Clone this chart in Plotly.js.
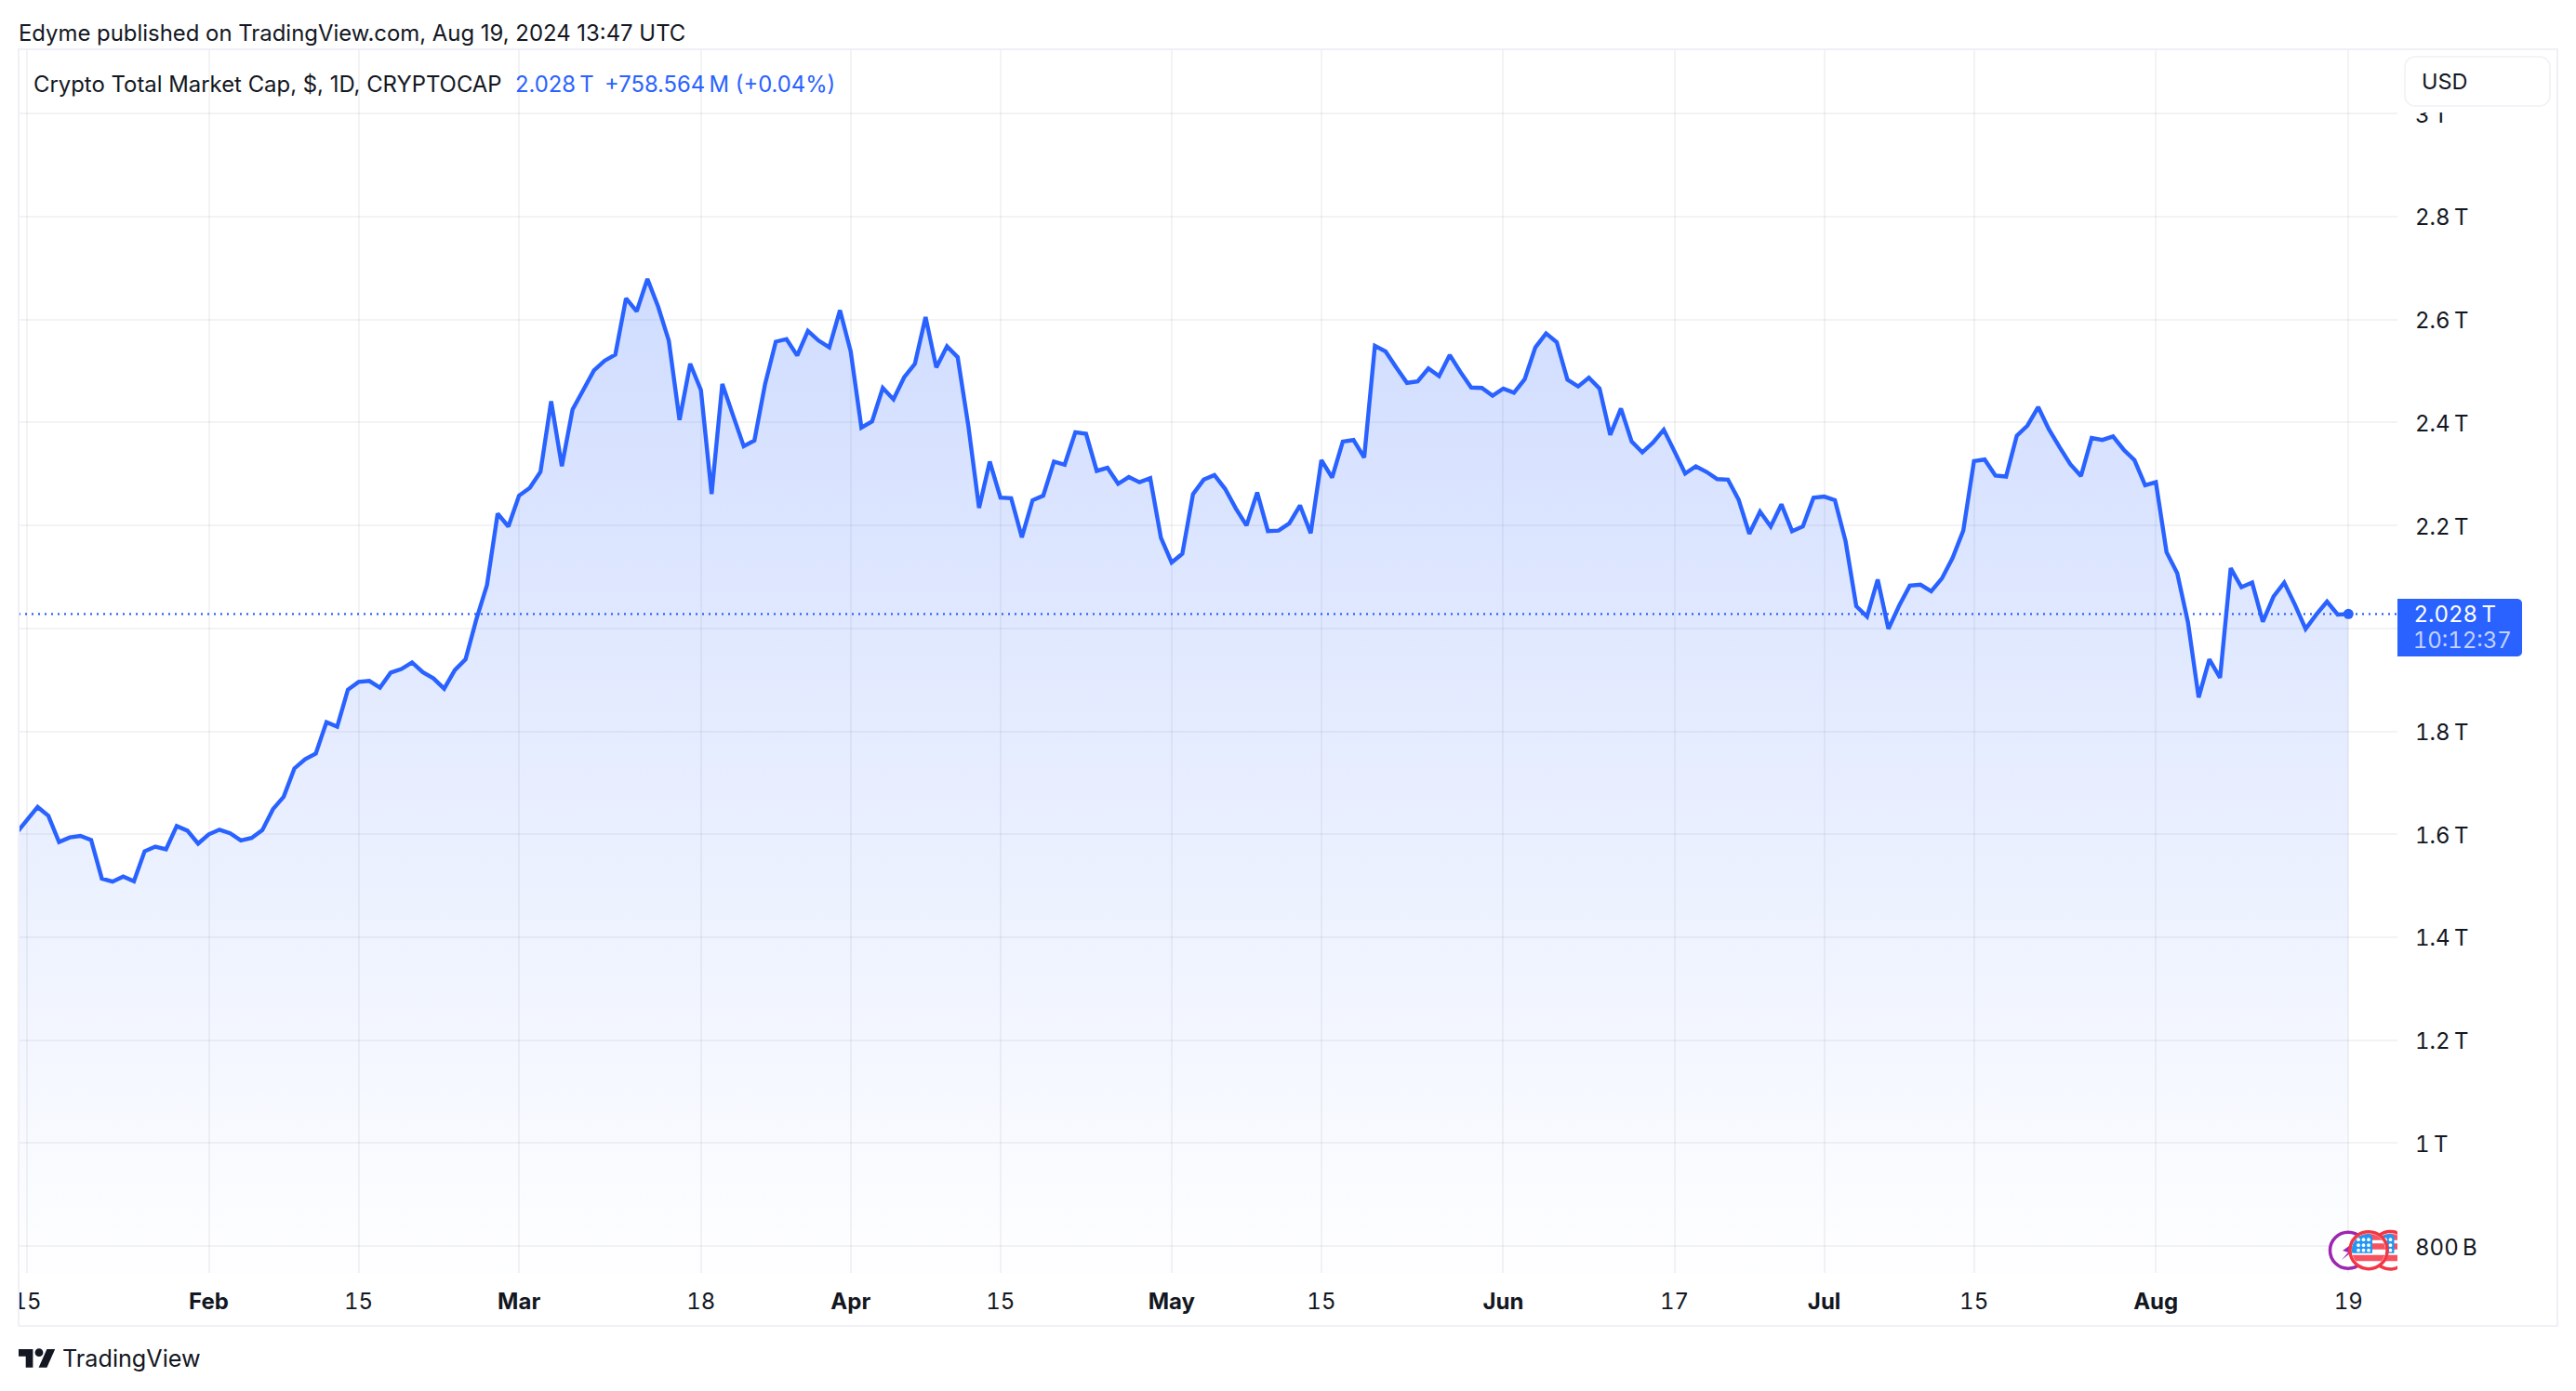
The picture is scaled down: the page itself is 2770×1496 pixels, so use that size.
<!DOCTYPE html>
<html>
<head>
<meta charset="utf-8">
<script src="https://cdn.plot.ly/plotly-3.0.1.min.js"></script>
<style>html,body{margin:0;padding:0;background:#fff}#chart{width:2770px;height:1496px}
.xtick text,.ytick text,.annotation[data-index="5"] text,.annotation[data-index="6"] text{font-variant-numeric:tabular-nums;font-feature-settings:"tnum"}</style>
</head>
<body>
<div id="chart"></div>
<script>
// Crypto total market cap, trillions USD, one value per day. January begins on the 14th.
const jan = [1.602,1.628,1.653,1.636,1.585,1.594,1.597,1.589,1.514,1.508,1.518,1.509,1.567,1.576,1.571,1.616,1.607,1.582];
const feb = [1.600,1.609,1.602,1.588,1.593,1.608,1.649,1.673,1.728,1.746,1.757,1.818,1.809,1.881,1.896,1.898,1.885,1.914,1.921,1.934,1.915,1.903,1.883,1.919,1.940,2.017,2.084,2.223,2.198];
const mar = [2.258,2.273,2.304,2.441,2.315,2.425,2.463,2.501,2.520,2.532,2.641,2.616,2.679,2.625,2.559,2.405,2.514,2.463,2.261,2.475,2.414,2.354,2.365,2.475,2.557,2.562,2.530,2.578,2.559,2.546,2.618];
const apr = [2.538,2.390,2.402,2.467,2.445,2.488,2.514,2.605,2.507,2.548,2.527,2.393,2.234,2.324,2.254,2.253,2.177,2.249,2.258,2.324,2.318,2.381,2.378,2.306,2.312,2.281,2.294,2.284,2.292,2.176];
const may = [2.128,2.145,2.261,2.289,2.298,2.271,2.233,2.200,2.264,2.189,2.190,2.204,2.239,2.185,2.327,2.293,2.363,2.366,2.332,2.549,2.538,2.507,2.477,2.480,2.505,2.490,2.531,2.498,2.468,2.467,2.452];
const jun = [2.466,2.458,2.484,2.546,2.573,2.556,2.483,2.470,2.487,2.466,2.376,2.427,2.363,2.342,2.361,2.386,2.344,2.301,2.315,2.304,2.290,2.289,2.250,2.184,2.227,2.198,2.241,2.189,2.198,2.254];
const jul = [2.256,2.249,2.169,2.043,2.023,2.095,1.999,2.044,2.083,2.085,2.072,2.097,2.137,2.190,2.325,2.328,2.297,2.295,2.374,2.394,2.430,2.387,2.352,2.319,2.296,2.370,2.366,2.373,2.347,2.327,2.278];
const aug = [2.284,2.148,2.107,2.012,1.866,1.940,1.904,2.117,2.080,2.089,2.013,2.062,2.089,2.046,1.999,2.027,2.052,2.027,2.028];

const xTickVals = ['2024-01-15','2024-02-01','2024-02-15','2024-03-01','2024-03-18','2024-04-01','2024-04-15','2024-05-01','2024-05-15','2024-06-01','2024-06-17','2024-07-01','2024-07-15','2024-08-01','2024-08-19'];
const xTickText = ['15','<b>Feb</b>','15','<b>Mar</b>','18','<b>Apr</b>','15','<b>May</b>','15','<b>Jun</b>','17','<b>Jul</b>','15','<b>Aug</b>','19'];
const yTickVals = [0.8,1,1.2,1.4,1.6,1.8,2,2.2,2.4,2.6,2.8,3];
const yTickText = ['800\u2009B','1\u2009T','1.2\u2009T','1.4\u2009T','1.6\u2009T','1.8\u2009T','2\u2009T','2.2\u2009T','2.4\u2009T','2.6\u2009T','2.8\u2009T','3\u2009T'];
yTickText[6] = '';  // the 2 T label is hidden behind the price tag

const publishedText = 'Edyme published on TradingView.com, Aug 19, 2024 13:47 UTC';
const symbolText = 'Crypto Total Market Cap, $, 1D, CRYPTOCAP';
const priceText = '2.028\u2009T';
const changeText = '+758.564\u2009M (+0.04%)';
const countdownText = '10:12:37';

const months = [[1,jan,14],[2,feb,1],[3,mar,1],[4,apr,1],[5,may,1],[6,jun,1],[7,jul,1],[8,aug,1]];
const dates = [], values = [];
const pad = n => String(n).padStart(2,'0');
months.forEach(([m,arr,first]) => arr.forEach((v,i) => { dates.push(`2024-${pad(m)}-${pad(first+i)}`); values.push(v); }));
const lastDate = dates[dates.length-1], lastValue = values[values.length-1];

const W=2770,H=1496,L=20,R=2578,T=53,B=1369;
const INK='#131722', BLUE='#2962FF', GRID='rgba(46,46,46,0.06)', FRAME='#f0f0f6';
const FONT='Inter';
const px = x => (x-L)/(R-L), py = y => 1-(y-T)/(B-T);
const poly = pts => 'M'+pts.map(p=>px(p[0]).toFixed(6)+','+py(p[1]).toFixed(6)).join('L')+'Z';
const rect = (x0,y0,x1,y1,fill,extra={}) => Object.assign({type:'rect',xref:'paper',yref:'paper',x0:px(x0),x1:px(x1),y0:py(y0),y1:py(y1),fillcolor:fill,line:{width:0},layer:'above'},extra);
const path = (d,fill,extra={}) => Object.assign({type:'path',xref:'paper',yref:'paper',path:d,fillcolor:fill,line:{width:0},layer:'above'},extra);
const circle = (cx,cy,r,fill,stroke,w) => ({type:'circle',xref:'paper',yref:'paper',x0:px(cx-r),x1:px(cx+r),y0:py(cy+r),y1:py(cy-r),fillcolor:fill,line:{color:stroke,width:w},layer:'above'});
function rounded(x0,y0,x1,y1,r){
  const pts=[];const cs=[[x1-r[1],y0+r[1],r[1],-90],[x1-r[2],y1-r[2],r[2],0],[x0+r[3],y1-r[3],r[3],90],[x0+r[0],y0+r[0],r[0],180]];
  cs.forEach(([cx,cy,rr,a])=>{for(let k=0;k<=6;k++){const t=(a+15*k)*Math.PI/180;pts.push([cx+rr*Math.cos(t),cy+rr*Math.sin(t)]);}});
  return poly(pts);
}
function band(cx,cy,r,y0,y1,xmin,xmax){
  const l=[],rt=[];const n=8;
  for(let k=0;k<=n;k++){const y=y0+(y1-y0)*k/n;const d=Math.sqrt(Math.max(0,r*r-(y-cy)*(y-cy)));
    l.push([Math.max(cx-d,xmin),y]);rt.push([Math.min(cx+d,xmax),y]);}
  return poly(l.concat(rt.reverse()));
}
function flag(cx,cy,clip){
  const r=18, s=[];
  s.push(path(band(cx,cy,r,cy-r,cy+r,-1e9,clip),'#ffffff'));
  [[-18,-11],[-7.5,-1],[5,11.5]].forEach(([a,b])=>s.push(path(band(cx,cy,r,cy+a,cy+b,-1e9,clip),'#F7525F')));
  s.push(path(band(cx,cy,r,cy-r,cy+3,-1e9,Math.min(cx+4,clip)),'#2196F3'));
  [[-11,-11.5],[-5.5,-11.5],[-11,-5.5],[-5.5,-5.5],[0,-5.5],[-11,0],[-5.5,0],[0,0],[0,-11.5]].forEach(([dx,dy])=>{
    if(cx+dx+2<clip) s.push(circle(cx+dx,cy+dy,1.9,'#ffffff','#ffffff',0));});
  return s;
}
function ring(cx,cy,ro,ri,clip,color){
  const o=[],i=[];
  for(let a=0;a<=360;a+=8){const t=a*Math.PI/180;o.push([Math.min(cx+ro*Math.cos(t),clip),cy+ro*Math.sin(t)]);i.push([Math.min(cx+ri*Math.cos(t),clip),cy+ri*Math.sin(t)]);}
  return path(poly(o)+poly(i.reverse()),color);
}
const iconY=1344.7;
const shapes=[
  {type:'line',xref:'paper',yref:'y',x0:0,x1:1,y0:lastValue,y1:lastValue,line:{color:BLUE,width:2.2,dash:'2px,5px'},layer:'above'},
  rect(0,1372,19,1426,'#ffffff'),
  rect(L,T,2750,1426,'rgba(0,0,0,0)',{line:{color:FRAME,width:2}}),
  rect(2586,100,2742,121,'#ffffff'),
  path(rounded(2586,61,2742,114,[11,11,11,11]),'#ffffff',{line:{color:FRAME,width:1.5}}),
  path(rounded(R,644,2712,706,[0,5,5,0]),BLUE),
  circle(2525,iconY,19.5,'#ffffff','#9C27B0',3.5),
  path(poly([[2533,1335],[2519,1345],[2525,1347],[2518,1355],[2532,1344],[2526,1342]]),'#9C27B0'),
  ...flag(2570.5,iconY,R),
  ring(2570.5,iconY,22,18.5,R,'#F23645'),
  circle(2547,iconY,20,'#ffffff','#F23645',3.5),
  ...flag(2547,iconY,1e9),
  path(poly([[20,1451],[35.4,1451],[35.4,1470.8],[27.7,1470.8],[27.7,1458.7],[20,1458.7]]),INK),
  path(poly([[50.4,1451],[59.2,1451],[50.4,1470.8],[41.6,1470.8]]),INK),
  circle(42,1454.7,4.4,INK,INK,0)
];
const note=(x,y,text,size,color,extra={})=>Object.assign({xref:'paper',yref:'paper',x:px(x),y:py(y),text,showarrow:false,xanchor:'left',yanchor:'middle',font:{family:FONT,size,color},borderpad:0},extra);
const annotations=[
  note(19,35,publishedText,23.9,INK),
  note(35,90,symbolText,23.9,INK),
  note(553,90,priceText,23.8,BLUE),
  note(649,90,changeText,23.8,BLUE),
  note(2603,87,'USD',23.5,INK),
  note(2596,660,priceText,24,'#ffffff'),
  note(2601,688,countdownText,24,'rgba(255,255,255,0.72)'),
  note(66,1461,'TradingView',25.2,INK)
];

const traces=[
  {x:dates,y:values,type:'scatter',mode:'lines',line:{color:BLUE,width:4.4,shape:'linear'},fill:'tozeroy',
   fillgradient:{type:'vertical',start:0.8,stop:2.68,colorscale:[[0,'rgba(41,98,255,0.01)'],[1,'rgba(41,98,255,0.22)']]},hoverinfo:'skip'},
  {x:[lastDate],y:[lastValue],type:'scatter',mode:'markers',marker:{color:BLUE,size:11},hoverinfo:'skip'}
];
const layout={
  width:W,height:H,margin:{l:L,r:W-R,t:T,b:H-B,pad:0},paper_bgcolor:'#ffffff',plot_bgcolor:'#ffffff',showlegend:false,
  font:{family:FONT,color:INK,size:24},
  xaxis:{type:'date',range:['2024-01-14 05:17','2024-08-23 14:00'],tickmode:'array',tickvals:xTickVals,ticktext:xTickText,tickangle:0,
    showgrid:true,gridcolor:GRID,gridwidth:2,zeroline:false,showline:false,ticks:'',ticklabelstandoff:14,tickfont:{family:FONT,size:24,color:INK}},
  yaxis:{side:'right',range:[0.748,3.125],tickmode:'array',tickvals:yTickVals,ticktext:yTickText,
    showgrid:true,gridcolor:GRID,gridwidth:2,zeroline:false,showline:false,ticks:'',ticklabelstandoff:18,ticklabelshift:1,tickfont:{family:FONT,size:24,color:INK}},
  shapes,annotations
};
Plotly.newPlot('chart',traces,layout,{staticPlot:true,displayModeBar:false});
</script>
</body>
</html>
